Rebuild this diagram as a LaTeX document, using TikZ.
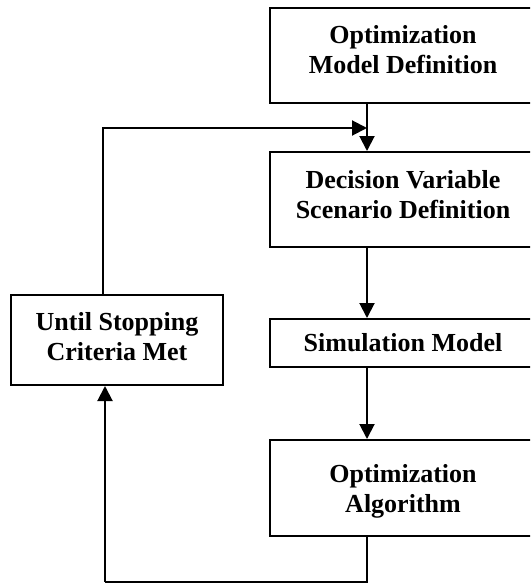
\documentclass[tikz,border=0pt]{standalone}
\usepackage{fontspec}
\setmainfont{Liberation Serif}
\usetikzlibrary{arrows.meta}
\newcommand{\liftup}[2]{\raisebox{#1}[\height][\depth]{\begin{tabular}{@{}c@{}}#2\end{tabular}}}
\begin{document}
\begin{tikzpicture}[x=1pt,y=-1pt,
  box/.style={draw=black,line width=2pt,fill=white,inner sep=0pt,align=center,
    font=\bfseries\fontsize{26}{30}\selectfont},
  conn/.style={line width=2pt,-{Triangle[length=15pt,width=15pt]}},
  plain/.style={line width=2pt}]
\useasboundingbox (0,0) rectangle (530,583);
\begin{scope}
\clip (0,0) rectangle (530,583);
\node[box,minimum width=266pt,minimum height=95pt] (b1) at (403,55.5) {\liftup{3pt}{Optimization\\Model Definition}};
\node[box,minimum width=266pt,minimum height=95pt] (b2) at (403,199.5) {\liftup{2pt}{Decision Variable\\Scenario Definition}};
\node[box,minimum width=266pt,minimum height=48pt] (b3) at (403,343) {\liftup{-2pt}{Simulation Model}};
\node[box,minimum width=212pt,minimum height=90pt] (lb) at (117,340) {\liftup{1pt}{Until Stopping\\Criteria Met}};
\node[box,minimum width=266pt,minimum height=96pt] (b4) at (403,488) {\liftup{-3pt}{Optimization\\Algorithm}};
\coordinate (cx) at (367,0);
\coordinate (top) at (103,128);
\coordinate (bot) at (367,582);
\coordinate (botl) at (105,582);
\coordinate (mid) at (367,128);
\draw[conn] (b1.south -| cx) -- (b2.north -| cx);
\draw[conn] (b2.south -| cx) -- (b3.north -| cx);
\draw[conn] (b3.south -| cx) -- (b4.north -| cx);
\draw[plain] (b4.south -| cx) -- (bot) -- (botl);
\draw[conn] (botl) -- (lb.south -| botl);
\draw[conn] (lb.north -| top) -- (top) -- (mid);
\end{scope}
\end{tikzpicture}
\end{document}
